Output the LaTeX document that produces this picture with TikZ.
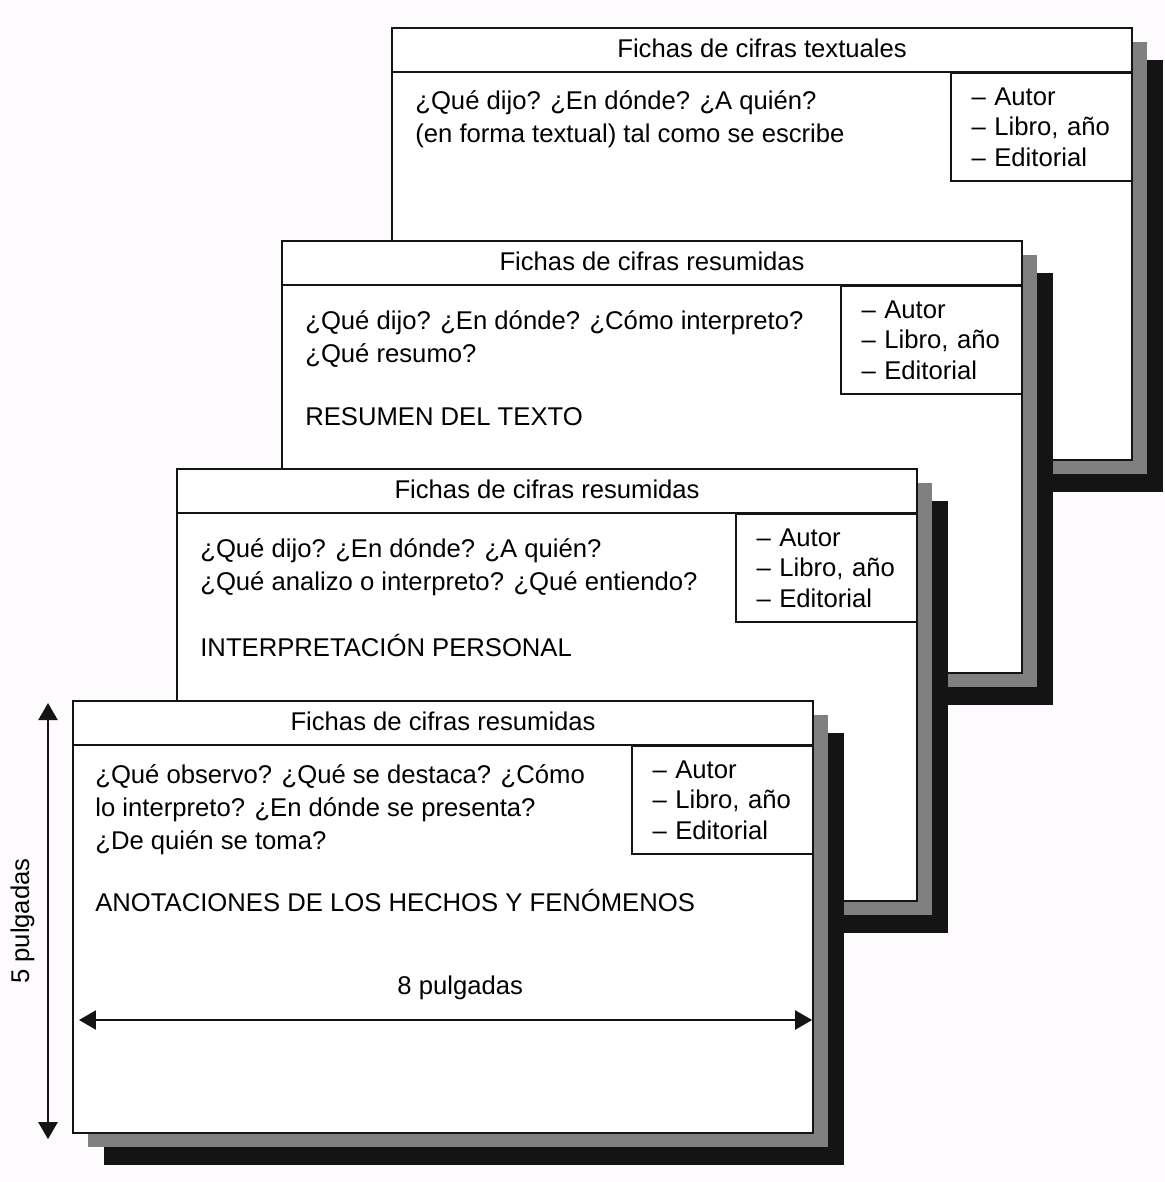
\documentclass[tikz,border=0pt]{standalone}
\usepackage{fontspec}
\setmainfont{Liberation Sans}
\usetikzlibrary{calc,shadows,arrows.meta}
\definecolor{paper}{RGB}{254,251,254}
\definecolor{shade}{RGB}{128,128,128}
\definecolor{ink}{RGB}{20,20,20}

\begin{document}
\begin{tikzpicture}[x=0.02cm,y=-0.02cm,
  ficha/.style = {draw=ink, fill=white, line width=1.3pt, anchor=north west, minimum width=14.8cm, minimum height=8.64cm, inner sep=0pt,
    general shadow={fill=ink, shadow xshift=0.62cm, shadow yshift=-0.64cm},
    general shadow={fill=shade, shadow xshift=0.3cm, shadow yshift=-0.28cm}},
  autor/.style = {draw=ink, line width=1.3pt, anchor=north east, minimum width=3.62cm, minimum height=2.16cm, text width=2.8cm, inner xsep=0.41cm, inner ysep=0pt, align=left, font=\fontsize{14.6}{17.4}\selectfont},
  titulo/.style = {inner sep=0pt, font=\fontsize{14.6}{17}\selectfont},
  txt/.style = {anchor=west, inner sep=0pt, align=left, font=\fontsize{14.6}{18.8}\selectfont},
  edge/.style = {draw=ink, line width=1.3pt},
  dim/.style = {draw=ink, line width=1.3pt, {Triangle[length=0.34cm,width=0.38cm]}-{Triangle[length=0.34cm,width=0.38cm]}}]
        \fill[paper] (0,0) rectangle (1165,1182);

        \node[ficha] (f4) at (391,27) {};
        \draw[edge] ($(f4.north west)+(0,45)$) -- ($(f4.north east)+(0,45)$);
        \node[titulo] (t4) at ($(f4.north)+(0,21)$) {Fichas de cifras textuales};
        \node[autor] (s4) at ($(f4.north east)+(0,45)$) {-- Autor\\-- Libro, año\\-- Editorial};
        \node[txt] (q4) at ($(f4.north west)+(24,92)$) {¿Qué dijo? ¿En dónde? ¿A quién?\\(en forma textual) tal como se escribe};

        \node[ficha] (f3) at (281,240) {};
        \draw[edge] ($(f3.north west)+(0,45)$) -- ($(f3.north east)+(0,45)$);
        \node[titulo] (t3) at ($(f3.north)+(0,21)$) {Fichas de cifras resumidas};
        \node[autor] (s3) at ($(f3.north east)+(0,45)$) {-- Autor\\-- Libro, año\\-- Editorial};
        \node[txt] (q3) at ($(f3.north west)+(24,99)$) {¿Qué dijo? ¿En dónde? ¿Cómo interpreto?\\¿Qué resumo?};
        \node[txt] (r3) at ($(f3.north west)+(24,177)$) {RESUMEN DEL TEXTO};

        \node[ficha] (f2) at (176,468) {};
        \draw[edge] ($(f2.north west)+(0,45)$) -- ($(f2.north east)+(0,45)$);
        \node[titulo] (t2) at ($(f2.north)+(0,21)$) {Fichas de cifras resumidas};
        \node[autor] (s2) at ($(f2.north east)+(0,45)$) {-- Autor\\-- Libro, año\\-- Editorial};
        \node[txt] (q2) at ($(f2.north west)+(24,99)$) {¿Qué dijo? ¿En dónde? ¿A quién?\\¿Qué analizo o interpreto? ¿Qué entiendo?};
        \node[txt] (r2) at ($(f2.north west)+(24,177)$) {INTERPRETACIÓN PERSONAL};

        \node[ficha] (f1) at (72,700) {};
        \draw[edge] ($(f1.north west)+(0,45)$) -- ($(f1.north east)+(0,45)$);
        \node[titulo] (t1) at ($(f1.north)+(0,21)$) {Fichas de cifras resumidas};
        \node[autor] (s1) at ($(f1.north east)+(0,45)$) {-- Autor\\-- Libro, año\\-- Editorial};
        \node[txt] (q1) at ($(f1.north west)+(23,110)$) {¿Qué observo? ¿Qué se destaca? ¿Cómo\\lo interpreto? ¿En dónde se presenta?\\¿De quién se toma?};
        \node[txt] (r1) at ($(f1.north west)+(23,200)$) {ANOTACIONES DE LOS HECHOS Y FENÓMENOS};

        \coordinate (v1) at ($(f1.north west)+(-24,3)$);
        \coordinate (v2) at ($(f1.south west)+(-24,5)$);
        \coordinate (h1) at ($(f1.north west)+(7,320)$);
        \coordinate (h2) at ($(f1.north east)+(-2,320)$);
        \draw[dim] (v2) -- node[titulo, sloped, above=0.25cm] {5 pulgadas} (v1);
        \draw[dim] (h1) -- node[titulo, pos=0.52, above=0.38cm] {8 pulgadas} (h2);
\end{tikzpicture}
\end{document}
